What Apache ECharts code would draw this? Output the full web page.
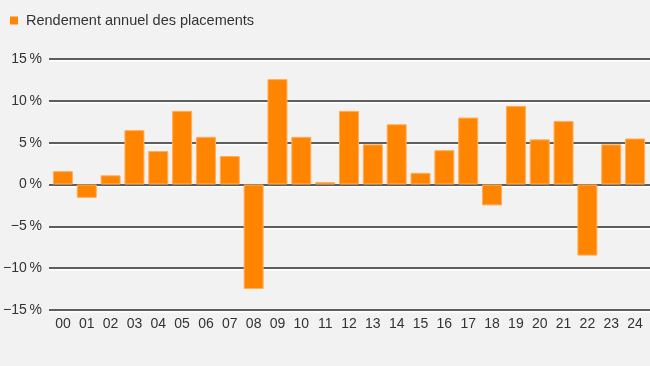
<!DOCTYPE html>
<html>
<head>
<meta charset="utf-8">
<script src="https://cdn.jsdelivr.net/npm/echarts@6/dist/echarts.min.js"></script>
<style>
html,body{margin:0;padding:0;background:#f2f2f2;}
#c{width:650px;height:366px;}
</style>
</head>
<body>
<div id="c"></div>
<script>
var seriesName = 'Rendement annuel des placements';
var categories = ['00','01','02','03','04','05','06','07','08','09','10','11','12','13','14','15','16','17','18','19','20','21','22','23','24'];
var values = [1.6,-1.6,1.1,6.5,4.0,8.8,5.7,3.4,-12.5,12.6,5.7,0.3,8.8,4.8,7.2,1.4,4.1,8.0,-2.5,9.4,5.4,7.6,-8.5,4.8,5.5];
var yTicks = [-15,-10,-5,0,5,10,15];
var yTickLabels = {'-15':'\u221215\u202f%','-10':'\u221210\u202f%','-5':'\u22125\u202f%','0':'0\u202f%','5':'5\u202f%','10':'10\u202f%','15':'15\u202f%'};

var font = '"Liberation Sans", Arial, sans-serif';
var chart = echarts.init(document.getElementById('c'), null, {renderer:'canvas'});
chart.setOption({
  backgroundColor:'#f2f2f2',
  animation:false,
  legend:{
    left:10, top:13, padding:0, icon:'rect', itemWidth:8, itemHeight:8, itemGap:8,
    itemStyle:{borderWidth:0, color:'#ff8500'},
    textStyle:{color:'#333', fontSize:14.5, fontFamily:font, padding:[0,0,0,3]},
    data:[seriesName]
  },
  grid:[
    {left:46, right:0, top:59, bottom:56},
    {left:51, right:3, top:59, bottom:56}
  ],
  xAxis:[
    {gridIndex:0, type:'category', data:categories, show:false},
    {gridIndex:1, type:'category', data:categories,
      axisLine:{show:false}, axisTick:{show:false},
      axisLabel:{color:'#333', fontSize:14, fontFamily:font, margin:7}}
  ],
  yAxis:[
    {gridIndex:0, type:'value', min:yTicks[0], max:yTicks[yTicks.length-1], interval:5,
      axisLine:{show:false}, axisTick:{show:false},
      axisLabel:{color:'#333', fontSize:14, fontFamily:font, margin:7,
        formatter:function(v){return yTickLabels[String(v)];}},
      splitLine:{lineStyle:{color:'#5e5e5e', width:2, shadowColor:'#ffffff', shadowOffsetY:1.5, shadowBlur:0}}},
    {gridIndex:1, type:'value', min:yTicks[0], max:yTicks[yTicks.length-1], interval:5, show:false, splitLine:{show:false}}
  ],
  series:[{
    name:seriesName, type:'bar', xAxisIndex:1, yAxisIndex:1, data:values, barWidth:20,
    itemStyle:{color:'#ff8500', borderColor:'#ffae5c', borderWidth:1}
  }]
});
</script>
</body>
</html>
